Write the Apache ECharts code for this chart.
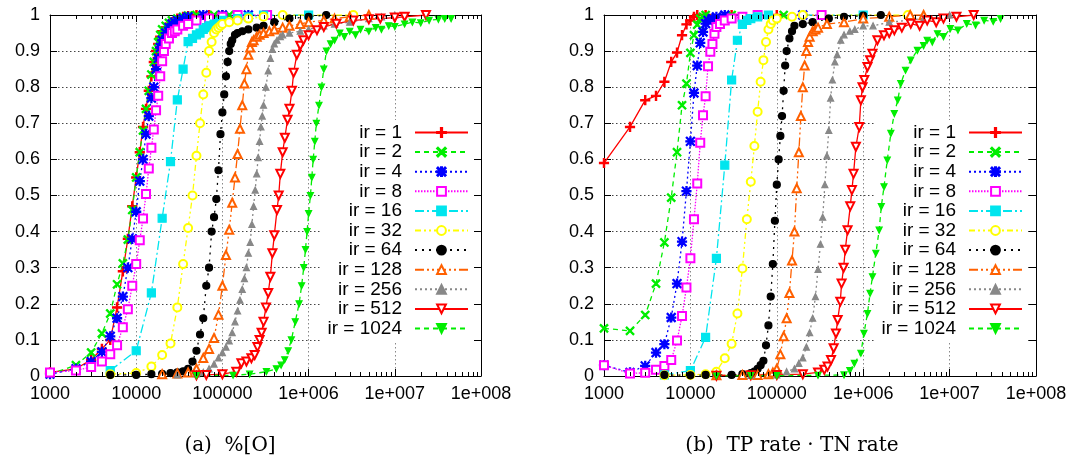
<!DOCTYPE html>
<html><head><meta charset="utf-8">
<script src="https://cdn.jsdelivr.net/npm/echarts@6/dist/echarts.min.js"></script>
<style>html,body{margin:0;padding:0;background:#fff}#c{width:1073px;height:461px}</style>
</head><body><div id="c"></div><script>
// ---------- data ----------
const seriesNames = ['ir = 1','ir = 2','ir = 4','ir = 8','ir = 16','ir = 32','ir = 64','ir = 128','ir = 256','ir = 512','ir = 1024'];
const xTickLabels = ['1000','10000','100000','1e+006','1e+007','1e+008'];
const yTickLabels = ['0','0.1','0.2','0.3','0.4','0.5','0.6','0.7','0.8','0.9','1'];
const minorTickFactors = [2,3,4,5,6,7,8,9];
const captions = ['(a)  %[O]', '(b)  TP rate \u00b7 TN rate'];

// panel (a): %[O]
const o_ir1 = [[1000,0.01],[2000,0.02],[3000,0.045],[4000,0.075],[5000,0.1],[6000,0.19],[7000,0.29],[8000,0.38],[9000,0.47],[10000,0.55],[11000,0.62],[12000,0.69],[13000,0.74],[14000,0.79],[15000,0.83],[16000,0.87],[17000,0.9],[18000,0.92],[19000,0.94],[20000,0.955],[22000,0.965],[24000,0.975],[26000,0.98],[28000,0.985],[30000,0.99],[35000,0.995],[40000,0.997],[50000,1],[70000,1],[100000,1]];
const o_ir2 = [[1000,0.005],[2000,0.03],[3000,0.065],[4000,0.118],[5000,0.173],[6000,0.254],[7000,0.312],[8000,0.378],[9000,0.46],[10000,0.55],[11000,0.62],[12000,0.68],[13000,0.74],[14000,0.79],[15000,0.835],[16000,0.87],[17000,0.9],[18000,0.925],[19000,0.945],[20000,0.96],[22000,0.97],[24000,0.978],[26000,0.985],[30000,0.99],[35000,0.995],[40000,0.998],[50000,1],[80000,1],[120000,1]];
const o_ir4 = [[1000,0.005],[2000,0.02],[3000,0.04],[4000,0.067],[5000,0.11],[6000,0.16],[7000,0.22],[8000,0.3],[9000,0.38],[10000,0.455],[11000,0.54],[12000,0.6],[13000,0.67],[14000,0.72],[15000,0.77],[16000,0.8],[17000,0.85],[18000,0.88],[19000,0.91],[20000,0.93],[22000,0.95],[24000,0.965],[26000,0.975],[28000,0.98],[30000,0.985],[35000,0.99],[40000,0.995],[60000,1],[100000,1],[200000,1]];
const o_ir8 = [[1000,0.01],[2000,0.015],[3000,0.025],[4000,0.04],[5000,0.06],[6000,0.085],[7000,0.135],[8000,0.185],[9000,0.25],[10000,0.31],[11000,0.376],[12000,0.436],[13000,0.504],[14000,0.575],[15000,0.632],[16000,0.683],[17000,0.736],[18000,0.776],[19000,0.83],[20000,0.872],[21000,0.9],[22000,0.92],[24000,0.935],[26000,0.95],[28000,0.955],[30000,0.96],[35000,0.97],[40000,0.975],[50000,0.985],[70000,0.99],[100000,0.995],[150000,1],[330000,1]];
const o_ir16 = [[5000,0.015],[10000,0.07],[15000,0.23],[20000,0.437],[25000,0.594],[30000,0.765],[35000,0.85],[40000,0.926],[45000,0.935],[50000,0.945],[55000,0.95],[60000,0.96],[65000,0.965],[70000,0.97],[80000,0.975],[90000,0.98],[100000,0.985],[150000,0.99],[200000,0.995],[300000,1],[1000000,1]];
const o_ir32 = [[5000,0.005],[10000,0.008],[15000,0.026],[20000,0.058],[25000,0.09],[30000,0.19],[35000,0.31],[40000,0.41],[45000,0.5],[50000,0.61],[55000,0.7],[60000,0.78],[65000,0.84],[70000,0.9],[75000,0.925],[80000,0.95],[85000,0.96],[90000,0.965],[95000,0.97],[100000,0.975],[120000,0.98],[150000,0.985],[200000,0.99],[300000,0.995],[500000,1],[3300000,1]];
const o_ir64 = [[5000,0.003],[10000,0.003],[15000,0.005],[20000,0.006],[25000,0.008],[30000,0.01],[35000,0.013],[40000,0.02],[45000,0.04],[50000,0.07],[55000,0.115],[60000,0.16],[65000,0.25],[70000,0.3],[75000,0.4],[80000,0.44],[85000,0.49],[90000,0.57],[95000,0.67],[100000,0.73],[105000,0.78],[110000,0.83],[115000,0.87],[120000,0.9],[125000,0.92],[130000,0.93],[140000,0.945],[150000,0.95],[170000,0.955],[200000,0.96],[250000,0.965],[300000,0.97],[400000,0.98],[600000,0.99],[1000000,0.995],[1600000,1]];
const o_ir128 = [[20000,0.005],[30000,0.007],[40000,0.01],[50000,0.02],[60000,0.05],[70000,0.075],[80000,0.105],[90000,0.17],[100000,0.25],[110000,0.335],[120000,0.405],[130000,0.48],[140000,0.55],[150000,0.615],[160000,0.685],[170000,0.75],[180000,0.81],[190000,0.85],[200000,0.89],[210000,0.91],[220000,0.925],[230000,0.93],[250000,0.94],[270000,0.945],[300000,0.95],[350000,0.955],[400000,0.96],[500000,0.965],[600000,0.97],[800000,0.975],[1000000,0.98],[1500000,0.985],[2000000,0.99],[3000000,0.995],[5000000,1]];
const o_ir256 = [[30000,0.003],[50000,0.006],[60000,0.01],[70000,0.02],[80000,0.033],[90000,0.05],[100000,0.065],[110000,0.08],[120000,0.097],[130000,0.12],[140000,0.15],[150000,0.18],[160000,0.21],[170000,0.24],[180000,0.27],[190000,0.3],[200000,0.34],[210000,0.37],[220000,0.42],[230000,0.47],[240000,0.515],[250000,0.56],[260000,0.605],[270000,0.65],[280000,0.69],[290000,0.72],[300000,0.75],[320000,0.8],[340000,0.845],[360000,0.88],[380000,0.905],[400000,0.92],[430000,0.93],[470000,0.94],[500000,0.945],[600000,0.95],[800000,0.955],[1000000,0.96],[1500000,0.97],[2000000,0.975],[3000000,0.98],[5000000,0.99],[7000000,0.995],[10000000,1]];
const o_ir512 = [[50000,0.002],[65000,0.003],[100000,0.005],[145000,0.012],[166000,0.035],[190000,0.04],[217000,0.049],[237000,0.058],[255000,0.08],[270000,0.1],[285000,0.12],[300000,0.15],[320000,0.19],[340000,0.23],[360000,0.275],[380000,0.34],[400000,0.39],[430000,0.46],[450000,0.5],[470000,0.56],[500000,0.62],[530000,0.66],[570000,0.71],[600000,0.74],[640000,0.79],[670000,0.84],[730000,0.89],[800000,0.915],[870000,0.93],[1000000,0.944],[1250000,0.958],[1500000,0.967],[2100000,0.976],[3300000,0.985],[5000000,0.988],[6800000,0.99],[10000000,0.993],[13000000,0.995],[23000000,1]];
const o_ir1024 = [[50000,0.001],[133000,0.002],[207000,0.005],[324000,0.012],[423000,0.02],[480000,0.03],[528000,0.045],[580000,0.07],[631000,0.1],[700000,0.15],[775000,0.2],[830000,0.25],[878000,0.3],[920000,0.35],[960000,0.4],[1000000,0.45],[1050000,0.5],[1090000,0.55],[1130000,0.6],[1180000,0.65],[1230000,0.7],[1320000,0.75],[1410000,0.8],[1500000,0.85],[1610000,0.9],[1800000,0.92],[2000000,0.93],[2300000,0.95],[2600000,0.94],[3000000,0.955],[3500000,0.945],[4000000,0.96],[5000000,0.955],[6000000,0.965],[7000000,0.96],[8500000,0.97],[10000000,0.968],[13000000,0.975],[16000000,0.98],[20000000,0.978],[25000000,0.985],[32000000,0.988],[38000000,0.99],[45000000,0.99]];

// panel (b): TP rate * TN rate
const p_ir1 = [[1000,0.59],[2000,0.69],[3000,0.764],[4000,0.776],[5000,0.815],[6000,0.87],[7000,0.896],[8000,0.944],[9000,0.974],[10000,0.985],[11000,0.995],[12000,1],[15000,1],[30000,1],[100000,1]];
const p_ir2 = [[1000,0.132],[2000,0.125],[3000,0.169],[4000,0.256],[5000,0.37],[6000,0.494],[7000,0.62],[8000,0.75],[9000,0.81],[10000,0.895],[11000,0.944],[12000,0.973],[13000,0.99],[14000,0.995],[15000,1],[30000,1],[120000,1]];
const p_ir4 = [[1000,0.03],[2000,0.01],[3000,0.028],[4000,0.065],[5000,0.088],[6000,0.162],[7000,0.256],[8000,0.372],[9000,0.512],[10000,0.65],[11000,0.784],[12000,0.86],[13000,0.923],[14000,0.953],[15000,0.976],[16000,0.985],[18000,0.99],[20000,0.995],[25000,1],[200000,1]];
const p_ir8 = [[1000,0.03],[2000,0.007],[3000,0.009],[4000,0.017],[5000,0.028],[6000,0.044],[7000,0.098],[8000,0.166],[9000,0.245],[10000,0.326],[11000,0.434],[12000,0.533],[13000,0.646],[14000,0.722],[15000,0.775],[16000,0.858],[17000,0.898],[18000,0.92],[19000,0.948],[20000,0.967],[22000,0.975],[25000,0.985],[30000,0.99],[40000,0.995],[60000,1],[330000,1]];
const p_ir16 = [[5000,0.003],[10000,0.015],[15000,0.107],[20000,0.326],[25000,0.584],[30000,0.82],[35000,0.93],[40000,0.974],[45000,0.985],[50000,0.99],[60000,0.995],[80000,1],[1000000,1]];
const p_ir32 = [[5000,0.002],[10000,0.003],[15000,0.005],[20000,0.012],[25000,0.049],[30000,0.089],[35000,0.173],[40000,0.298],[45000,0.434],[50000,0.538],[55000,0.637],[60000,0.732],[65000,0.815],[70000,0.875],[75000,0.925],[80000,0.96],[85000,0.975],[90000,0.985],[100000,0.99],[150000,0.995],[200000,1],[3300000,1]];
const p_ir64 = [[5000,0.003],[10000,0.002],[15000,0.003],[20000,0.003],[30000,0.003],[40000,0.005],[50000,0.008],[55000,0.012],[60000,0.02],[65000,0.03],[70000,0.042],[75000,0.085],[80000,0.14],[85000,0.22],[90000,0.31],[95000,0.43],[100000,0.53],[105000,0.6],[110000,0.665],[115000,0.72],[120000,0.79],[125000,0.86],[130000,0.9],[140000,0.935],[150000,0.955],[160000,0.97],[200000,0.975],[260000,0.98],[400000,0.99],[600000,0.995],[1000000,0.998],[1600000,1]];
const p_ir128 = [[20000,0.002],[40000,0.003],[60000,0.003],[80000,0.005],[90000,0.01],[100000,0.02],[110000,0.06],[120000,0.11],[130000,0.16],[140000,0.23],[150000,0.32],[160000,0.4],[170000,0.52],[180000,0.62],[190000,0.72],[200000,0.8],[210000,0.86],[220000,0.9],[230000,0.925],[240000,0.94],[260000,0.955],[280000,0.96],[300000,0.965],[380000,0.975],[600000,0.98],[1000000,0.99],[2000000,0.995],[3500000,1],[5000000,1]];
const p_ir256 = [[50000,0.002],[100000,0.003],[130000,0.012],[160000,0.02],[180000,0.035],[200000,0.05],[220000,0.08],[240000,0.12],[260000,0.16],[280000,0.22],[300000,0.295],[320000,0.365],[340000,0.44],[360000,0.53],[380000,0.61],[400000,0.68],[420000,0.77],[440000,0.82],[470000,0.87],[500000,0.89],[550000,0.93],[600000,0.945],[700000,0.955],[800000,0.96],[1000000,0.97],[1300000,0.97],[2000000,0.98],[5000000,0.99],[10000000,1]];
const p_ir512 = [[20000,0.001],[50000,0.002],[100000,0.003],[200000,0.005],[300000,0.01],[355000,0.017],[387000,0.026],[424000,0.044],[455000,0.077],[484000,0.118],[506000,0.155],[543000,0.206],[562000,0.256],[593000,0.3],[620000,0.35],[659000,0.404],[708000,0.47],[740000,0.515],[773000,0.56],[823000,0.635],[900000,0.69],[940000,0.764],[982000,0.8],[1030000,0.82],[1120000,0.856],[1200000,0.875],[1280000,0.893],[1460000,0.93],[1740000,0.944],[2000000,0.95],[2290000,0.958],[2800000,0.965],[3550000,0.976],[4500000,0.97],[5500000,0.985],[7000000,0.98],[8500000,0.99],[12000000,0.995],[19000000,1]];
const p_ir1024 = [[20000,0],[50000,0.001],[100000,0.001],[300000,0.002],[600000,0.003],[700000,0.015],[790000,0.035],[940000,0.063],[1020000,0.118],[1120000,0.173],[1200000,0.229],[1280000,0.275],[1400000,0.34],[1530000,0.404],[1620000,0.469],[1740000,0.524],[1900000,0.598],[2090000,0.672],[2290000,0.727],[2510000,0.764],[2720000,0.81],[3090000,0.847],[3550000,0.875],[4240000,0.902],[5000000,0.915],[5500000,0.93],[6300000,0.925],[7240000,0.948],[8500000,0.94],[10200000,0.962],[12500000,0.958],[15800000,0.976],[20000000,0.972],[25100000,0.985],[32000000,0.982],[38900000,0.99]];

const panelO = [o_ir1,o_ir2,o_ir4,o_ir8,o_ir16,o_ir32,o_ir64,o_ir128,o_ir256,o_ir512,o_ir1024];
const panelP = [p_ir1,p_ir2,p_ir4,p_ir8,p_ir16,p_ir32,p_ir64,p_ir128,p_ir256,p_ir512,p_ir1024];

// ---------- styles ----------
const SYM_PLUS = 'path://M4.3,0H5.7V4.3H10V5.7H5.7V10H4.3V5.7H0V4.3H4.3Z';
const SYM_CROSS = 'path://M1,0L5,4L9,0L10,1L6,5L10,9L9,10L5,6L1,10L0,9L4,5L0,1Z';
const SYM_STAR = 'path://M4.4,0H5.6V10H4.4ZM0,4.4H10V5.6H0ZM1,0.2L9.8,9L9,9.8L0.2,1ZM9,0.2L9.8,1L1,9.8L0.2,9Z';
const styles = [
  {color:'#ff0000', dash:'solid', symbol:SYM_PLUS, size:9},
  {color:'#00ee00', dash:[5,4], symbol:SYM_CROSS, size:8},
  {color:'#0000ff', dash:[2,3], symbol:SYM_STAR, size:9},
  {color:'#ff00ff', dash:[1.5,1.5], symbol:'emptyRect', size:8},
  {color:'#00e5ee', dash:[9,3,2,3], symbol:'rect', size:8},
  {color:'#ffff00', dash:[6,3,2,3,2,3], symbol:'emptyCircle', size:8},
  {color:'#000000', dash:[2,5], symbol:'circle', size:7},
  {color:'#ff6000', dash:[9,3,2,3,2,3], symbol:'emptyTriangle', size:8},
  {color:'#888888', dash:[2,3], symbol:'triangle', size:6},
  {color:'#ff0000', dash:'solid', symbol:'emptyTriangle', size:8, rotate:180},
  {color:'#00ee00', dash:[5,4], symbol:'triangle', size:6, rotate:180}
];

const FONT = 'Liberation Sans';
function xAxisDef(gi, pos) {
  const bottom = pos === 'bottom';
  return {
    type:'log', logBase:10, min:1000, max:1e8, gridIndex:gi, position:pos,
    axisLine:{show:true, onZero:false, lineStyle:{color:'#000', width:1}},
    axisTick:{show:true, inside:true, length:7, lineStyle:{color:'#000'}},
    axisLabel:{show:bottom, fontSize:18, fontFamily:FONT, color:'#000', margin:9,
      formatter:v => xTickLabels[Math.round(Math.log10(v)) - 3] || ''},
    splitLine:{show:bottom, lineStyle:{color:'#888', width:1, type:[1.5,2.5]}}
  };
}
function yAxisDef(gi, pos) {
  const left = pos === 'left';
  return {
    type:'value', min:0, max:1, interval:0.1, gridIndex:gi, position:pos,
    axisLine:{show:true, onZero:false, lineStyle:{color:'#000', width:1}},
    axisTick:{show:true, inside:true, length:7, lineStyle:{color:'#000'}},
    axisLabel:{show:left, fontSize:18, fontFamily:FONT, color:'#000', margin:10,
      formatter:v => yTickLabels[Math.round(v*10)]},
    splitLine:{show:left, lineStyle:{color:'#444', width:1, type:[1.5,2.5]}}
  };
}

const minorTicks = [];
for (let e = 3; e < 8; e++) minorTickFactors.forEach(f => minorTicks.push([f*Math.pow(10,e), 0]));

const series = [];
[panelO, panelP].forEach((panel, p) => {
  panel.forEach((data, i) => {
    const s = styles[i];
    series.push({
      type:'line', name:seriesNames[i], xAxisIndex:p*2, yAxisIndex:p*2, data:data,
      symbol:s.symbol, symbolSize:s.size, symbolRotate:s.rotate || 0,
      lineStyle:{color:s.color, width:1.3, type:s.dash},
      itemStyle:{color:s.color, borderColor:s.color, borderWidth:1.2},
      emphasis:{disabled:true}, animation:false, clip:true, z:3
    });
  });
  series.push({
    type:'custom', xAxisIndex:p*2, yAxisIndex:p*2, data:minorTicks, silent:true, clip:false, z:5,
    renderItem:(params, api) => {
      const v = api.value(0);
      const b = api.coord([v, 0]);
      const t = api.coord([v, 1]);
      const x = Math.round(b[0]) + 0.5;
      return {type:'group', children:[
        {type:'line', shape:{x1:x, y1:b[1], x2:x, y2:b[1]-4}, style:{stroke:'#000', lineWidth:1}},
        {type:'line', shape:{x1:x, y1:t[1], x2:x, y2:t[1]+4}, style:{stroke:'#000', lineWidth:1}}
      ]};
    }
  });
});

function legendDef(right) {
  return {
    data:seriesNames, orient:'vertical', right:right, top:120, align:'right', z:1,
    itemWidth:53, itemHeight:11, itemGap:0.6, padding:[3,3,3,6], backgroundColor:'#fff',
    selectedMode:false,
    textStyle:{fontSize:19, fontFamily:FONT, color:'#000', lineHeight:19, padding:[0,8,0,0]}
  };
}

const chart = echarts.init(document.getElementById('c'), null, {renderer:'canvas'});
chart.setOption({
  animation:false,
  backgroundColor:'#fff',
  grid:[{left:50, right:592, top:15, bottom:85}, {left:604, right:37, top:15, bottom:85}],
  xAxis:[xAxisDef(0,'bottom'), xAxisDef(0,'top'), xAxisDef(1,'bottom'), xAxisDef(1,'top')],
  yAxis:[yAxisDef(0,'left'), yAxisDef(0,'right'), yAxisDef(1,'left'), yAxisDef(1,'right')],
  legend:[legendDef(601), legendDef(47)],
  series:series,
  graphic:[
    {type:'text', x:230, y:446, style:{text:captions[0], font:'20px "DejaVu Serif"', fill:'#000', textAlign:'center', textVerticalAlign:'middle'}},
    {type:'text', x:792, y:446, style:{text:captions[1], font:'20px "DejaVu Serif"', fill:'#000', textAlign:'center', textVerticalAlign:'middle'}}
  ]
});
</script></body></html>
